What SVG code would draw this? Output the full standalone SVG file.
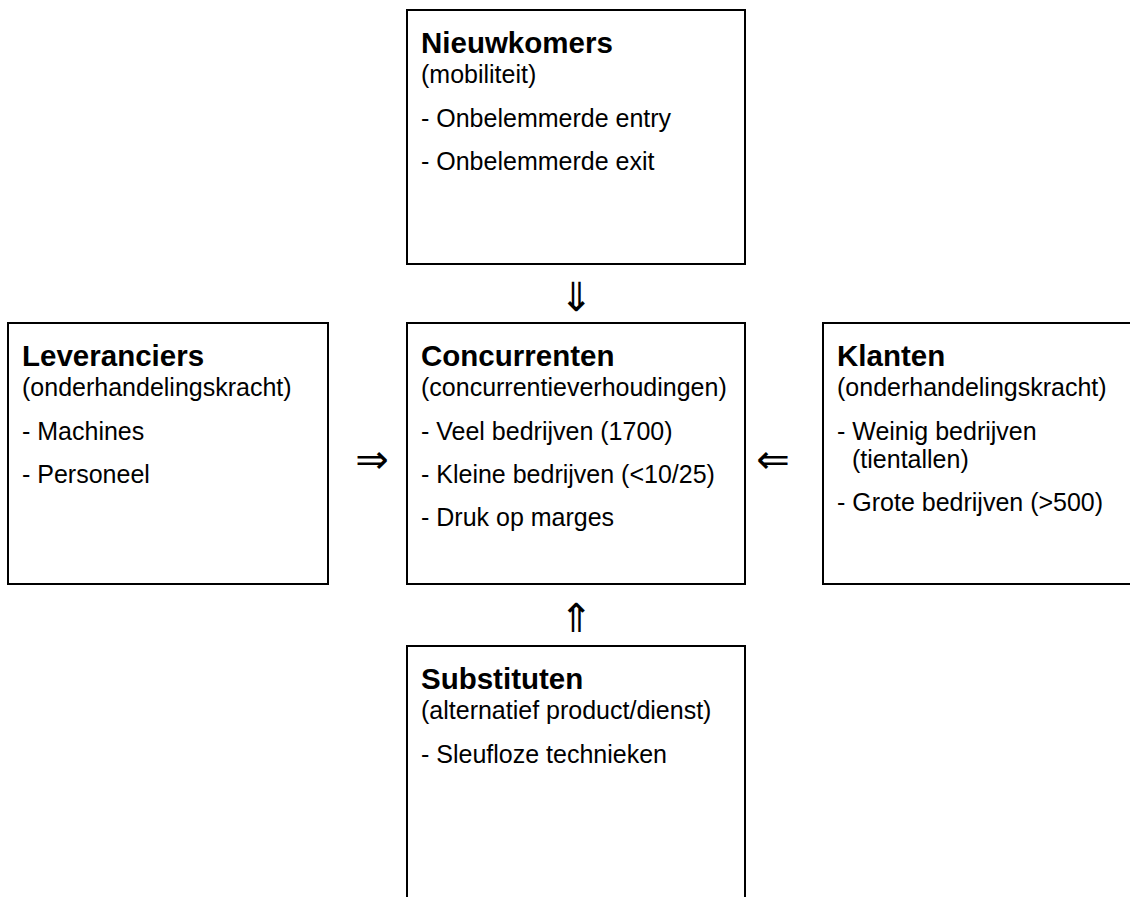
<svg xmlns="http://www.w3.org/2000/svg" width="1130" height="897" viewBox="0 0 1130 897">
<style>
.box{fill:#fff;stroke:#000;stroke-width:2}
.t{font-family:"Liberation Sans",Arial,sans-serif;font-size:29.5px;font-weight:bold;fill:#000}
.s{font-family:"Liberation Sans",Arial,sans-serif;font-size:25px;fill:#000}
.a{font-family:"DejaVu Sans",sans-serif;font-size:40px;fill:#000;text-anchor:middle}
</style>
<rect width="1130" height="897" fill="#fff"/>
<g id="nieuwkomers">
<rect class="box" x="407" y="10" width="338" height="254"/>
<text class="t" x="421" y="53">Nieuwkomers</text>
<text class="s" x="421" y="83">(mobiliteit)</text>
<text class="s" x="421" y="127">- Onbelemmerde entry</text>
<text class="s" x="421" y="170">- Onbelemmerde exit</text>
</g>
<g id="leveranciers">
<rect class="box" x="8" y="323" width="320" height="261"/>
<text class="t" x="22" y="366">Leveranciers</text>
<text class="s" x="22" y="396">(onderhandelingskracht)</text>
<text class="s" x="22" y="440">- Machines</text>
<text class="s" x="22" y="483">- Personeel</text>
</g>
<g id="concurrenten">
<rect class="box" x="407" y="323" width="338" height="261"/>
<text class="t" x="421" y="366">Concurrenten</text>
<text class="s" x="421" y="396">(concurrentieverhoudingen)</text>
<text class="s" x="421" y="440">- Veel bedrijven (1700)</text>
<text class="s" x="421" y="483">- Kleine bedrijven (&lt;10/25)</text>
<text class="s" x="421" y="526">- Druk op marges</text>
</g>
<g id="klanten">
<rect class="box" x="823" y="323" width="320" height="261"/>
<text class="t" x="837" y="366">Klanten</text>
<text class="s" x="837" y="396">(onderhandelingskracht)</text>
<text class="s" x="837" y="440">- Weinig bedrijven</text>
<text class="s" x="852" y="468">(tientallen)</text>
<text class="s" x="837" y="511">- Grote bedrijven (&gt;500)</text>
</g>
<g id="substituten">
<rect class="box" x="407" y="646" width="338" height="260"/>
<text class="t" x="421" y="689">Substituten</text>
<text class="s" x="421" y="719">(alternatief product/dienst)</text>
<text class="s" x="421" y="763">- Sleufloze technieken</text>
</g>
<g id="connectors">
<text class="a" x="576" y="311">⇓</text>
<text class="a" x="372" y="473">⇒</text>
<text class="a" x="773" y="473">⇐</text>
<text class="a" x="576" y="632">⇑</text>
</g>
</svg>
